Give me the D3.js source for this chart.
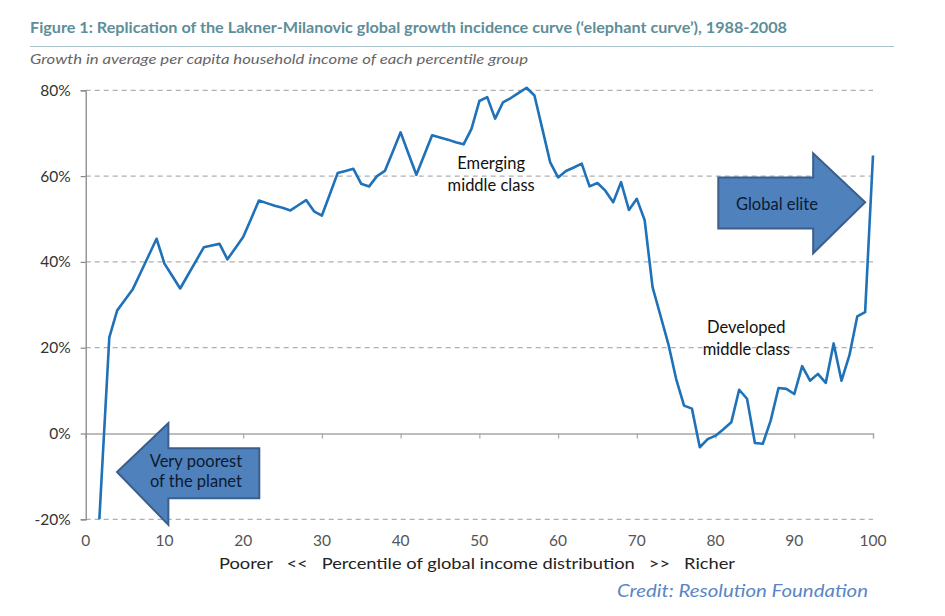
<!DOCTYPE html>
<html>
<head>
<meta charset="utf-8">
<script src="https://cdn.jsdelivr.net/npm/d3@7"></script>
<style>
  html, body { margin: 0; padding: 0; background: #fff; }
  svg { display: block; }
  text { font-family: Lato, "Open Sans", "DejaVu Sans", sans-serif; }
</style>
</head>
<body>
<svg id="chart" width="945" height="616"></svg>
<script>
// ---- Data ----
const percentiles = d3.range(1, 101);
const growth = [
  -45, -11, 22.4, 28.7, 31.2, 33.7, 37.6, 41.5, 45.4, 39.6,
  36.7, 33.8, 37.0, 40.2, 43.4, 43.8, 44.2, 40.6, 43.2, 45.8,
  50.0, 54.3, 53.7, 53.1, 52.6, 52.0, 53.2, 54.4, 51.8, 50.8,
  55.7, 60.7, 61.2, 61.7, 58.2, 57.6, 60.0, 61.2, 65.7, 70.2,
  65.2, 60.3, 64.9, 69.5, 69.0, 68.5, 67.9, 67.4, 71.0, 77.5,
  78.4, 73.4, 77.2, 78.2, 79.4, 80.6, 78.8, 71.0, 63.2, 59.7,
  61.2, 62.0, 62.9, 57.6, 58.4, 56.6, 53.9, 58.6, 52.1, 54.7,
  49.7, 34.1, 27.5, 20.9, 12.7, 6.5, 5.8, -3.2, -1.3, -0.5,
  1.0, 2.6, 10.2, 8.1, -2.2, -2.4, 3.0, 10.6, 10.4, 9.2,
  15.7, 12.3, 13.9, 11.8, 21.0, 12.3, 18.2, 27.3, 28.3, 64.8
];
const yTicks = [-20, 0, 20, 40, 60, 80];
const xTicks = [0, 10, 20, 30, 40, 50, 60, 70, 80, 90, 100];

const titleText = "Figure 1:  Replication of the Lakner-Milanovic global growth incidence curve (\u2018elephant curve\u2019), 1988-2008";
const subtitleText = "Growth in average per capita household income of each percentile group";
const xAxisTitle = "Poorer   <<   Percentile of global income distribution   >>   Richer";
const creditText = "Credit: Resolution Foundation";

const annotations = [
  { lines: ["Emerging", "middle class"], x: 51.5, y: 61.6 },
  { lines: ["Developed", "middle class"], x: 83.9, y: 23.4 }
];
const leftArrow = { lines: ["Very poorest", "of the planet"] };
const rightArrow = { lines: ["Global elite"] };

// ---- Chart ----
const svg = d3.select("#chart");
const x = d3.scaleLinear().domain([0, 100]).range([85.7, 873]);
const y = d3.scaleLinear().domain([-20, 80]).range([519.3, 90.3]);

// Title
svg.append("text")
  .attr("x", 30).attr("y", 33)
  .attr("fill", "#5e8e99")
  .attr("font-size", 15.5).attr("font-weight", 700)
  .attr("textLength", 757).attr("lengthAdjust", "spacingAndGlyphs")
  .text(titleText);
svg.append("line")
  .attr("x1", 30).attr("x2", 894).attr("y1", 46.5).attr("y2", 46.5)
  .attr("stroke", "#a9c4ca").attr("stroke-width", 1.2);
svg.append("text")
  .attr("x", 30).attr("y", 64)
  .attr("fill", "#666").attr("font-size", 14).attr("font-style", "italic")
  .attr("textLength", 498).attr("lengthAdjust", "spacingAndGlyphs")
  .text(subtitleText);

// Gridlines (dashed) except 0
svg.append("g").selectAll("line")
  .data(yTicks.filter(d => d !== 0))
  .join("line")
  .attr("x1", x(0)).attr("x2", x(100))
  .attr("y1", d => y(d)).attr("y2", d => y(d))
  .attr("stroke", "#b0b0b0").attr("stroke-width", 1.2)
  .attr("stroke-dasharray", "5,4");

// X axis at 0%
const xAxis = d3.axisBottom(x).tickValues(xTicks.filter(d => d !== 0)).tickSize(5).tickFormat("");
const gx = svg.append("g").attr("transform", `translate(0,${y(0)})`).call(xAxis);
gx.select(".domain").attr("stroke", "#a8a8a8").attr("stroke-width", 1.3);
gx.selectAll(".tick line").attr("stroke", "#a8a8a8").attr("stroke-width", 1.2);

// X tick labels at bottom
svg.append("g").selectAll("text")
  .data(xTicks)
  .join("text")
  .attr("x", d => x(d)).attr("y", 546)
  .attr("text-anchor", "middle")
  .attr("fill", "#555").attr("font-size", 15.5)
  .text(d => d);

// Y axis
const yAxis = d3.axisLeft(y).tickValues(yTicks).tickSize(5).tickFormat(d => d + "%").tickPadding(10);
const gy = svg.append("g").attr("transform", `translate(${x(0)},0)`).call(yAxis);
gy.select(".domain").attr("stroke", "#888").attr("stroke-width", 1.3);
gy.selectAll(".tick line").attr("stroke", "#888").attr("stroke-width", 1.2);
gy.selectAll(".tick text")
  .attr("fill", "#333").attr("font-size", 15.5)
  .attr("font-family", "Lato, 'Open Sans', sans-serif");

// Clip for the curve
svg.append("clipPath").attr("id", "plotclip")
  .append("rect")
  .attr("x", x(0)).attr("y", y(80) - 10)
  .attr("width", x(100) - x(0) + 5).attr("height", y(-20) - y(80) + 10);

const series = percentiles.map((p, i) => ({ p, v: growth[i] }));
const line = d3.line().x(d => x(d.p)).y(d => y(d.v));
svg.append("path")
  .datum(series)
  .attr("clip-path", "url(#plotclip)")
  .attr("fill", "none")
  .attr("stroke", "#1f71b8")
  .attr("stroke-width", 2.6)
  .attr("stroke-linejoin", "round")
  .attr("d", line);

// Arrows (defined in data units via scales)
const arrowFill = "#4f81bd", arrowStroke = "#3b5f8c";
function arrowPath(pts) {
  return "M" + pts.map(([a, b]) => `${x(a)},${y(b)}`).join("L") + "Z";
}
// left arrow
svg.append("path")
  .attr("d", arrowPath([
    [3.98, -8.97], [10.5, 2.4], [10.5, -3.45], [22.05, -3.45],
    [22.05, -15.1], [10.5, -15.1], [10.5, -21.3]
  ]))
  .attr("fill", arrowFill).attr("stroke", arrowStroke).attr("stroke-width", 2);
// right arrow
svg.append("path")
  .attr("d", arrowPath([
    [80.35, 59.7], [92.4, 59.7], [92.4, 65.3], [99.0, 53.9],
    [92.4, 42.0], [92.4, 47.8], [80.35, 47.8]
  ]))
  .attr("fill", arrowFill).attr("stroke", arrowStroke).attr("stroke-width", 2);

// Arrow texts
const lp = svg.append("text").attr("text-anchor", "middle").attr("fill", "#0d1a30").attr("font-size", 16.5);
lp.selectAll("tspan").data(leftArrow.lines).join("tspan")
  .attr("x", x(14.0)).attr("y", (d, i) => y(-7.8) + i * 20.5).text(d => d);
svg.append("text").attr("text-anchor", "middle").attr("fill", "#0d1a30").attr("font-size", 16.5)
  .attr("x", x(87.8)).attr("y", y(52.2)).text(rightArrow.lines[0]);

// Plain annotations
annotations.forEach(a => {
  const t = svg.append("text").attr("text-anchor", "middle").attr("fill", "#111").attr("font-size", 16.5);
  t.selectAll("tspan").data(a.lines).join("tspan")
    .attr("x", x(a.x)).attr("y", (d, i) => y(a.y) + i * 21.5).text(d => d);
});

// X axis title
svg.append("text")
  .attr("x", 477).attr("y", 569)
  .attr("text-anchor", "middle")
  .attr("fill", "#222").attr("font-size", 15.5)
  .style("white-space", "pre")
  .attr("textLength", 516).attr("lengthAdjust", "spacingAndGlyphs")
  .text(xAxisTitle);

// Credit
svg.append("text")
  .attr("x", 868).attr("y", 597)
  .attr("text-anchor", "end")
  .attr("fill", "#5a85c6").attr("font-size", 18).attr("font-style", "italic")
  .attr("textLength", 251).attr("lengthAdjust", "spacingAndGlyphs")
  .text(creditText);
</script>
</body>
</html>
